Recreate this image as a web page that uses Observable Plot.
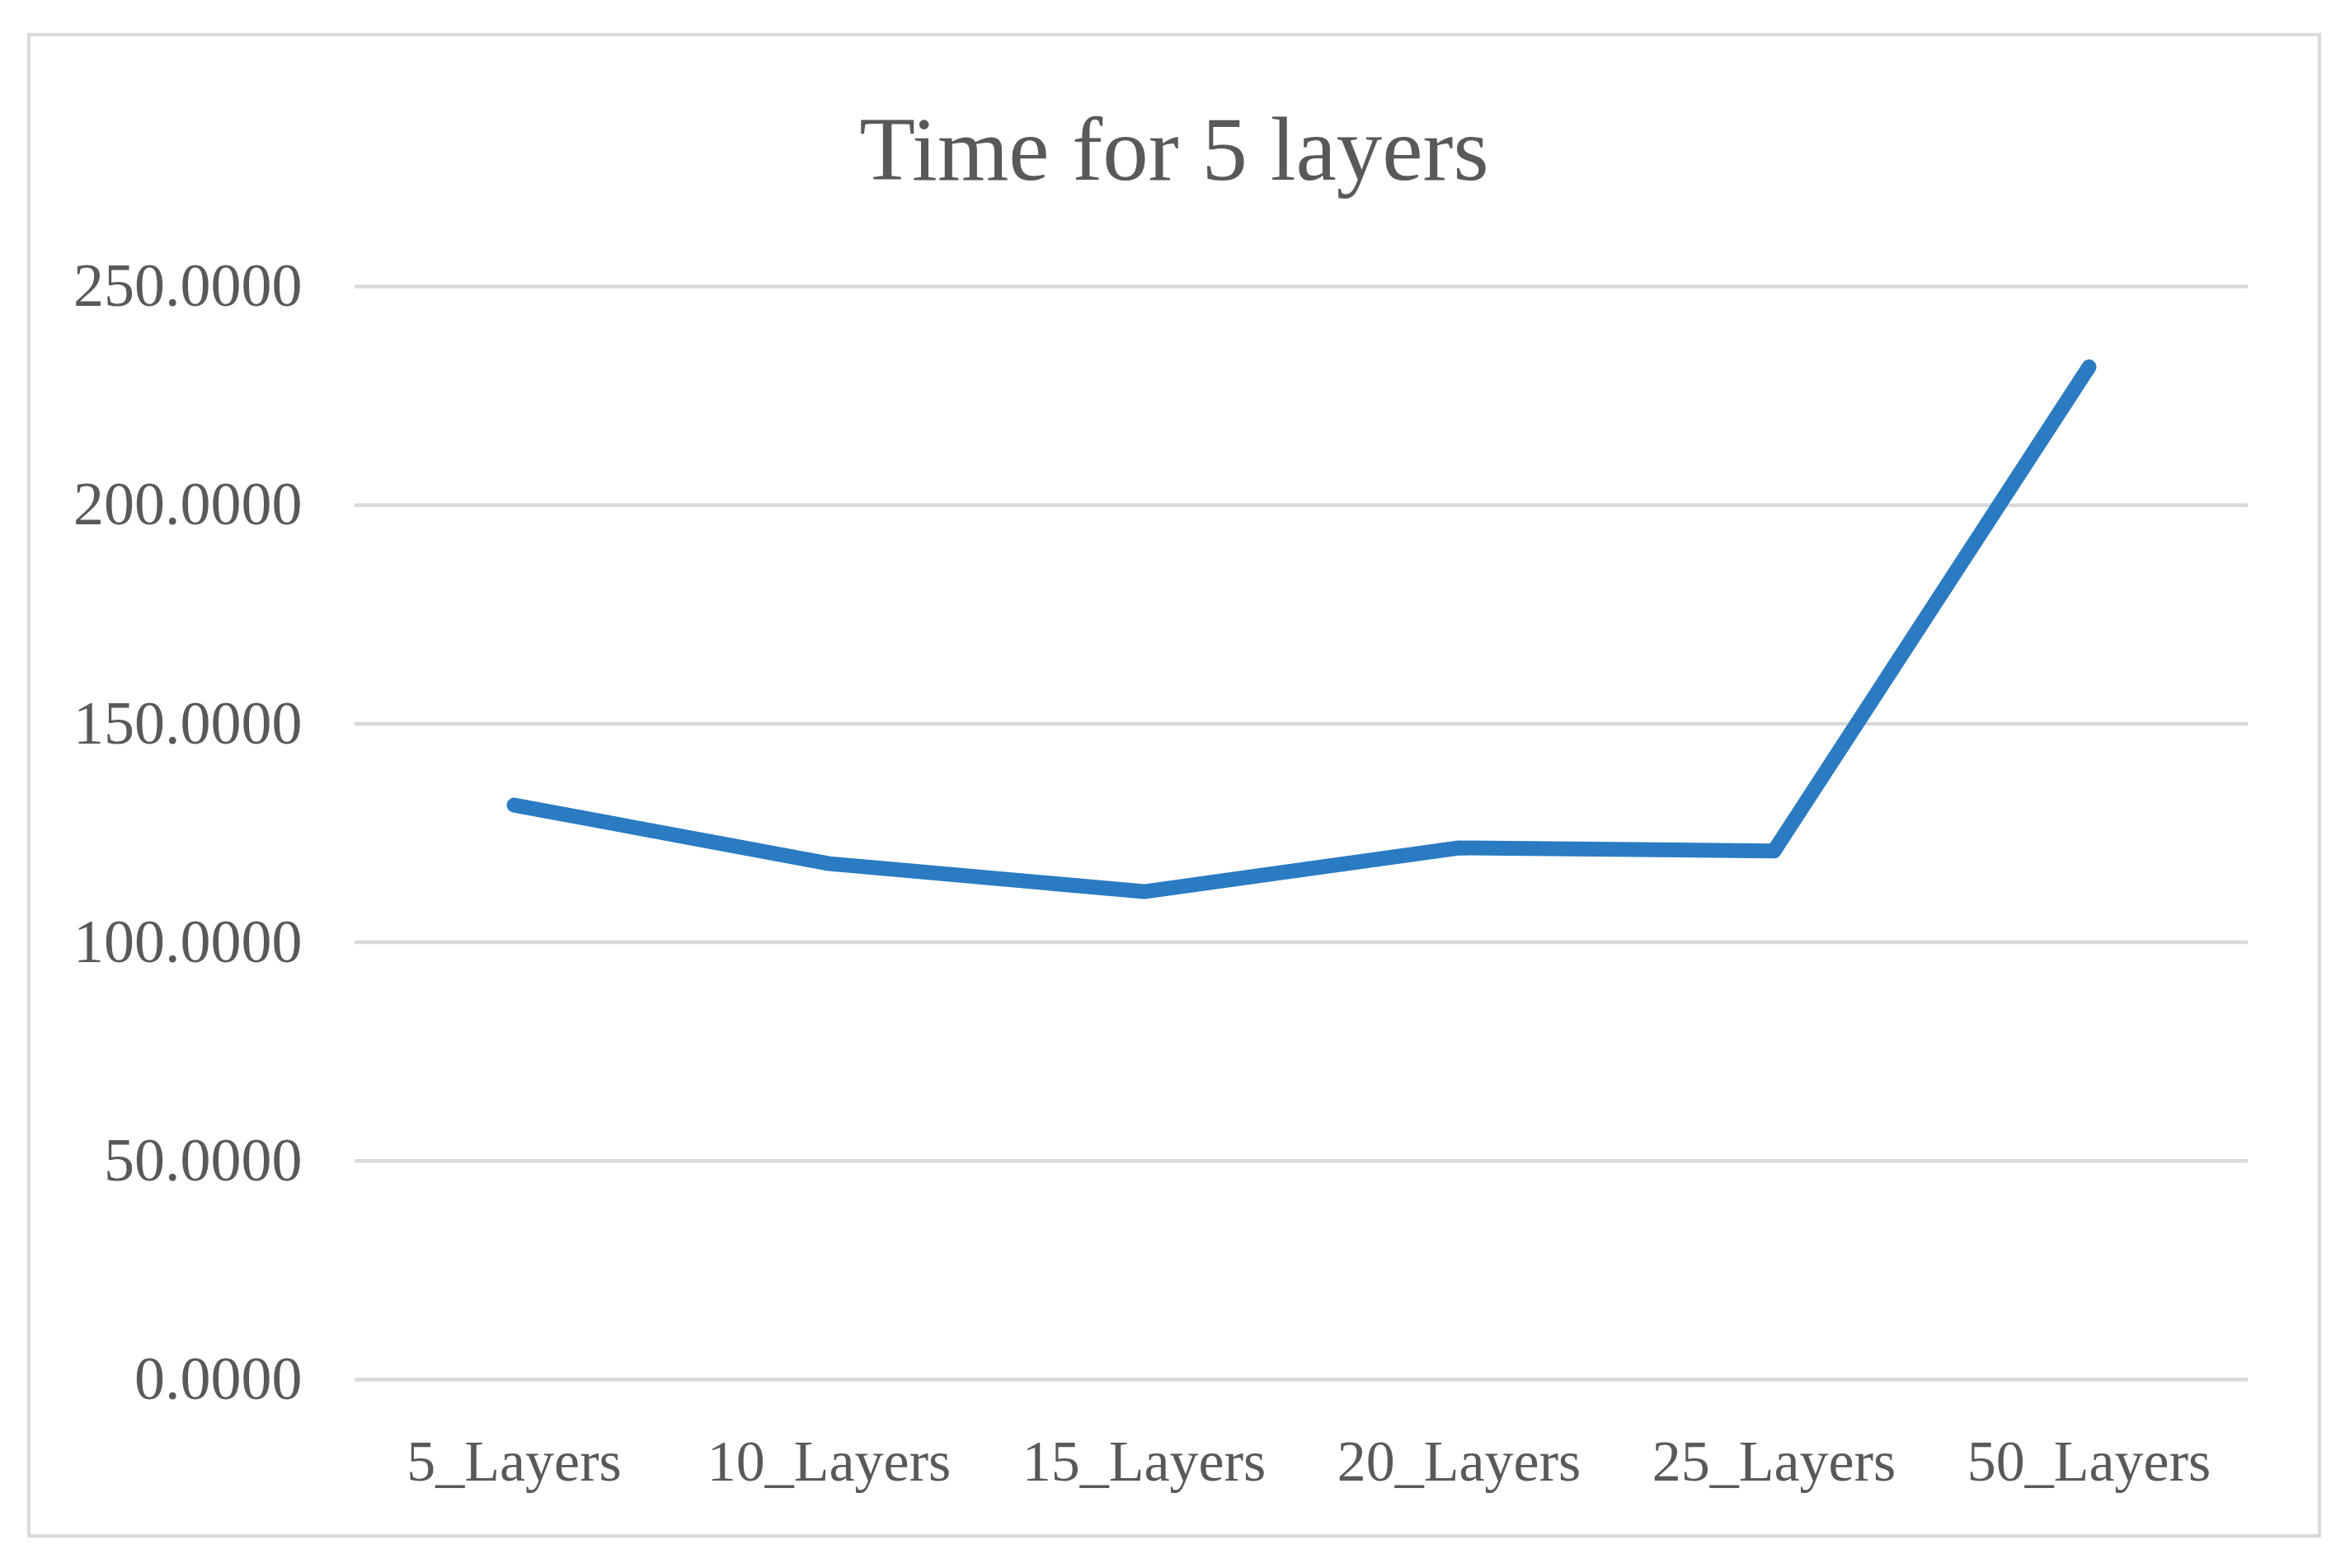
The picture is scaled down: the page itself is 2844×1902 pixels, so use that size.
<!DOCTYPE html>
<html>
<head>
<meta charset="utf-8">
<script src="https://cdn.jsdelivr.net/npm/d3@7"></script>
<script src="https://cdn.jsdelivr.net/npm/@observablehq/plot@0.6"></script>
<style>
  html, body { margin: 0; padding: 0; background: #ffffff; }
  #wrap { position: relative; width: 2844px; height: 1902px; overflow: hidden; }
  #frame { position: absolute; left: 33px; top: 40px; width: 2782px; height: 1825px;
           border: 4px solid #d9d9d9; box-sizing: border-box; }
  #title { position: absolute; left: 33px; width: 2782px; top: 125px; text-align: center;
           font-family: "Liberation Serif", serif; font-size: 111px; line-height: 1; color: #595959; }
  #chart { position: absolute; left: 0; top: 0; }
</style>
</head>
<body>
<div id="wrap">
  <div id="frame"></div>
  <div id="chart"></div>
  <div id="title">Time for 5 layers</div>
</div>
<script>
const categories = ["5_Layers", "10_Layers", "15_Layers", "20_Layers", "25_Layers", "50_Layers"];
const times = [131.4, 118.0, 111.6, 121.6, 120.9, 231.6];
const yTicks = [0, 50, 100, 150, 200, 250];

const data = categories.map((c, i) => ({category: c, time: times[i]}));

const chart = Plot.plot({
  width: 2844,
  height: 1902,
  marginLeft: 430,
  marginRight: 118,
  marginTop: 347,
  marginBottom: 229,
  style: {background: "transparent", fontFamily: "Liberation Serif, serif", color: "#595959"},
  x: {type: "band", domain: categories, padding: 0},
  y: {domain: [0, 250]},
  marks: [
    Plot.ruleY(yTicks, {stroke: "#d9d9d9", strokeWidth: 4.5}),
    Plot.axisY({ticks: yTicks, tickSize: 0, tickPadding: 64, fontSize: 74,
                tickFormat: d3.format(".4f"), label: null, fill: "#595959"}),
    Plot.axisX({tickSize: 0, tickPadding: 73, fontSize: 70, label: null, fill: "#595959"}),
    Plot.line(data, {x: "category", y: "time", stroke: "#2A7BC2", strokeWidth: 18,
                     strokeLinecap: "round", strokeLinejoin: "round"})
  ]
});
document.getElementById("chart").appendChild(chart);
</script>
</body>
</html>
